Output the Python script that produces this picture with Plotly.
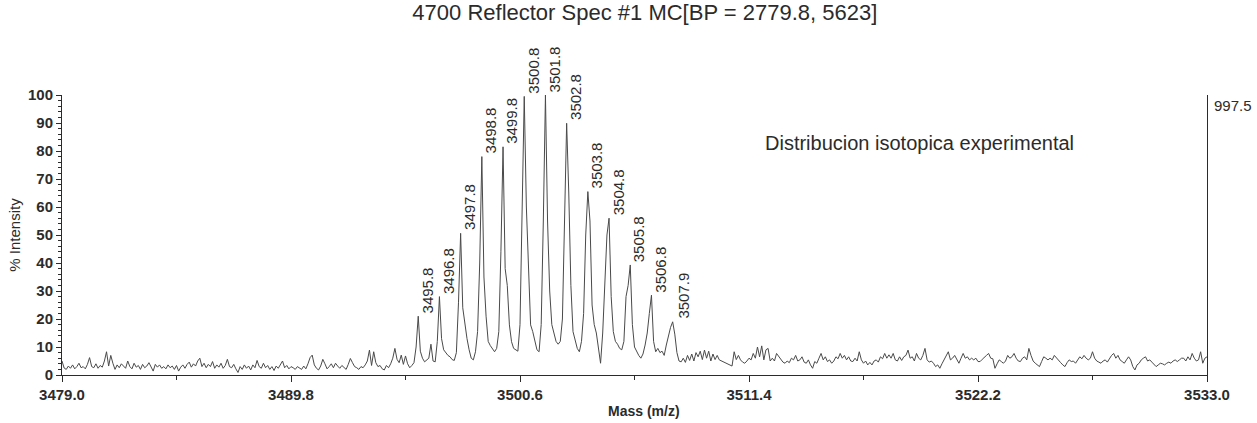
import plotly.graph_objects as go

# ---------------- data ----------------
TITLE = "4700 Reflector Spec #1 MC[BP = 2779.8, 5623]"
NOTE = "Distribucion isotopica experimental"
BASE_PEAK = "997.5"
X_TITLE = "Mass (m/z)"
Y_TITLE = "% Intensity"

MZ_START = 3479.0
MZ_STEP = 0.1

# % intensity sampled every 0.1 m/z from 3479.0 to 3533.0 (one row = 1 m/z)
INTENSITY = [
    5.0, 2.5, 2.0, 3.2, 2.4, 3.6, 2.2, 3.0, 4.2, 2.6,   # 3479
    3.0, 2.2, 3.8, 6.2, 3.0, 2.6, 4.0, 2.4, 3.4, 2.8,   # 3480
    5.0, 8.3, 3.2, 7.0, 4.2, 2.0, 3.6, 2.6, 4.0, 3.0,   # 3481
    2.4, 5.0, 3.0, 2.2, 4.2, 2.8, 3.4, 2.0, 3.8, 2.6,   # 3482
    3.2, 4.4, 2.6, 1.4, 3.8, 2.8, 3.6, 2.4, 3.0, 2.2,   # 3483
    3.6, 2.6, 3.2, 2.0, 3.4, 1.4, 2.8, 3.6, 2.4, 3.8,   # 3484
    4.6, 2.8, 4.0, 3.2, 5.0, 6.0, 3.0, 4.2, 2.6, 3.8,   # 3485
    3.0, 4.8, 2.4, 3.6, 2.8, 4.2, 2.4, 3.4, 5.6, 3.0,   # 3486
    2.6, 3.8, 2.2, 0.9, 3.0, 2.0, 3.6, 2.4, 3.2, 1.8,   # 3487
    3.6, 2.6, 5.2, 3.0, 2.4, 4.2, 2.6, 3.4, 2.0, 3.0,   # 3488
    1.6, 3.2, 2.4, 3.8, 5.0, 2.6, 3.4, 2.2, 3.0, 2.6,   # 3489
    2.0, 3.0, 2.4, 2.0, 3.2, 2.2, 4.0, 6.2, 7.1, 3.6,   # 3490
    2.4, 1.8, 3.2, 5.6, 4.0, 2.2, 3.0, 4.0, 2.6, 4.2,   # 3491
    3.2, 2.4, 3.4, 2.6, 2.0, 3.8, 5.9, 4.4, 3.0, 2.6,   # 3492
    2.0, 3.0, 2.6, 3.6, 5.0, 8.9, 3.4, 8.3, 4.4, 3.0,   # 3493
    3.4, 2.2, 1.8, 3.4, 2.6, 4.0, 6.0, 9.5, 5.6, 4.4,   # 3494
    7.1, 3.8, 6.8, 4.0, 2.6, 3.4, 4.4, 10.0, 21.0, 8.5,  # 3495
    6.0, 4.7, 5.5, 6.0, 11.0, 5.0, 4.7, 12.0, 28.0, 13.0,  # 3496
    9.0, 8.0, 7.0, 6.5, 5.5, 5.2, 8.0, 26.0, 50.6, 24.0,   # 3497
    18.0, 13.0, 9.0, 6.0, 5.4, 8.3, 15.5, 40.0, 78.0, 35.0,  # 3498
    21.0, 12.0, 10.5, 9.5, 8.3, 9.5, 15.5, 44.0, 81.5, 38.0,  # 3499
    32.0, 17.9, 11.9, 9.5, 9.0, 8.5, 18.0, 55.0, 99.5, 60.0,  # 3500
    42.0, 17.9, 15.5, 12.0, 9.0, 8.3, 18.0, 55.0, 100.0, 55.0,  # 3501
    30.0, 18.0, 15.0, 12.0, 11.0, 12.0, 20.0, 56.0, 89.9, 65.0,  # 3502
    32.0, 15.5, 12.0, 9.5, 8.3, 12.0, 22.0, 50.0, 65.5, 55.0,   # 3503
    25.0, 18.0, 15.0, 9.5, 4.2, 15.0, 30.0, 50.0, 56.0, 28.0,   # 3504
    15.5, 12.0, 11.0, 9.5, 9.0, 12.0, 28.0, 32.0, 39.3, 18.0,   # 3505
    10.0, 8.3, 7.0, 6.0, 7.5, 10.7, 15.0, 22.0, 28.5, 12.0,     # 3506
    8.3, 9.5, 8.0, 8.5, 7.0, 10.7, 14.0, 17.0, 19.0, 14.6,      # 3507
    8.0, 5.0, 4.7, 6.0, 4.5, 7.0, 5.2, 7.5, 5.0, 8.0,   # 3508
    6.5, 8.5, 5.5, 8.9, 6.0, 8.5, 5.0, 7.5, 5.5, 7.0,   # 3509
    5.4, 5.0, 4.5, 4.2, 3.8, 3.4, 3.2, 8.3, 5.5, 7.0,   # 3510
    5.4, 4.6, 4.2, 5.0, 6.0, 5.4, 7.7, 6.0, 10.0, 6.5,  # 3511
    10.4, 5.4, 9.0, 9.5, 5.0, 6.0, 5.0, 7.7, 6.5, 5.4,  # 3512
    4.6, 4.2, 5.0, 4.4, 6.0, 5.4, 7.0, 5.0, 5.4, 6.5,   # 3513
    4.6, 4.2, 5.4, 3.6, 2.4, 4.8, 4.2, 6.0, 7.7, 5.4,   # 3514
    6.5, 4.8, 5.4, 4.2, 5.0, 6.5, 5.8, 7.7, 6.0, 7.0,   # 3515
    5.4, 6.5, 5.0, 4.8, 6.0, 5.0, 8.3, 5.4, 4.2, 5.0,   # 3516
    3.6, 4.5, 3.6, 5.0, 5.4, 4.6, 6.5, 5.8, 7.7, 6.0,   # 3517
    7.2, 6.0, 7.7, 5.4, 5.0, 6.5, 5.2, 6.5, 7.0, 8.9,   # 3518
    6.0, 6.5, 5.0, 7.7, 6.0, 5.4, 7.0, 9.5, 5.4, 4.6,   # 3519
    5.0, 4.2, 3.0, 3.6, 2.4, 4.0, 5.4, 6.5, 8.3, 5.4,   # 3520
    6.0, 7.0, 5.4, 4.2, 6.0, 7.7, 6.0, 6.5, 5.4, 6.0,   # 3521
    5.4, 6.0, 4.8, 4.8, 5.6, 6.5, 7.0, 7.7, 6.0, 5.8,   # 3522
    2.4, 4.0, 5.4, 4.8, 4.2, 5.0, 7.0, 6.0, 6.5, 7.7,   # 3523
    6.0, 5.0, 4.8, 6.0, 6.5, 5.4, 9.5, 7.0, 5.0, 4.2,   # 3524
    3.6, 3.0, 4.8, 6.5, 6.0, 5.4, 6.0, 5.4, 7.0, 6.0,   # 3525
    5.4, 4.4, 3.6, 3.0, 4.4, 5.4, 4.8, 5.0, 4.2, 5.4,   # 3526
    6.5, 5.8, 7.0, 6.0, 5.4, 6.0, 8.3, 6.0, 5.0, 4.6,   # 3527
    4.2, 5.0, 5.4, 4.6, 6.0, 7.0, 7.7, 6.0, 7.0, 5.4,   # 3528
    4.8, 4.2, 5.4, 6.5, 5.4, 3.0, 1.8, 3.6, 4.2, 5.4,   # 3529
    6.0, 6.5, 5.0, 5.4, 4.6, 3.6, 3.0, 3.6, 4.2, 4.0,   # 3530
    3.6, 4.2, 4.6, 4.2, 5.0, 5.4, 4.8, 5.4, 6.0, 6.0,   # 3531
    5.0, 6.5, 5.4, 7.7, 6.0, 5.0, 5.4, 8.3, 4.2, 6.0,   # 3532
    6.5,                                                # 3533.0
]

PEAK_MZ = [3495.8, 3496.8, 3497.8, 3498.8, 3499.8, 3500.8, 3501.8,
           3502.8, 3503.8, 3504.8, 3505.8, 3506.8, 3507.9]
PEAK_LABELS = ["3495.8", "3496.8", "3497.8", "3498.8", "3499.8", "3500.8", "3501.8",
               "3502.8", "3503.8", "3504.8", "3505.8", "3506.8", "3507.9"]

X_TICKS = [3479.0, 3489.8, 3500.6, 3511.4, 3522.2, 3533.0]
X_TICK_TEXT = ["3479.0", "3489.8", "3500.6", "3511.4", "3522.2", "3533.0"]
Y_TICKS = [0, 10, 20, 30, 40, 50, 60, 70, 80, 90, 100]
Y_TICK_TEXT = ["0", "10", "20", "30", "40", "50", "60", "70", "80", "90", "100"]

# ---------------- figure ----------------
mz = [round(MZ_START + i * MZ_STEP, 2) for i in range(len(INTENSITY))]

FONT = "Liberation Sans, Arial, sans-serif"
INK = "#2b2b2b"

fig = go.Figure()
fig.add_trace(go.Scatter(
    x=mz, y=INTENSITY, mode="lines",
    line=dict(color="#4a4a4a", width=1),
    hoverinfo="x+y", showlegend=False,
))

annotations = []
for pm, lab in zip(PEAK_MZ, PEAK_LABELS):
    top = max(v for m, v in zip(mz, INTENSITY) if abs(m - pm) <= 0.15)
    annotations.append(dict(
        x=pm, y=top, xref="x", yref="y", text=lab, showarrow=False,
        textangle=-90, xanchor="center", yanchor="bottom", xshift=9, yshift=1,
        font=dict(family=FONT, size=15, color=INK),
    ))

annotations.append(dict(
    x=0.749, y=0.829, xref="paper", yref="paper", text=NOTE, showarrow=False,
    xanchor="center", yanchor="middle",
    font=dict(family=FONT, size=20, color=INK),
))
annotations.append(dict(
    x=1, y=100, xref="paper", yref="y", text=BASE_PEAK, showarrow=False,
    xanchor="left", yanchor="top", xshift=5, yshift=0,
    font=dict(family=FONT, size=15, color=INK),
))
annotations.append(dict(
    x=0.508, y=-0.129, xref="paper", yref="paper", text=X_TITLE, showarrow=False,
    xanchor="center", yanchor="middle",
    font=dict(family=FONT, size=14, color=INK, weight="bold"),
))

fig.update_layout(
    width=1257, height=423,
    margin=dict(l=62, r=50, t=95, b=48, autoexpand=False),
    paper_bgcolor="white", plot_bgcolor="white",
    title=dict(text=TITLE, x=0.513, xanchor="center", y=0.970, yanchor="middle",
               font=dict(family=FONT, size=22, color=INK)),
    annotations=annotations,
    showlegend=False,
)

fig.update_xaxes(
    range=[X_TICKS[0], X_TICKS[-1]], automargin=False,
    tickmode="array", tickvals=X_TICKS, ticktext=X_TICK_TEXT,
    ticks="outside", ticklen=6, tickwidth=1, tickcolor=INK,
    minor=dict(tickmode="linear", tick0=X_TICKS[0], dtick=(X_TICKS[1] - X_TICKS[0]) / 2,
               ticks="outside", ticklen=4, tickcolor=INK, showgrid=False),
    showline=True, linecolor=INK, linewidth=1, mirror=False,
    showgrid=False, zeroline=False,
    tickfont=dict(family=FONT, size=15, color=INK, weight="bold"),
)
fig.update_yaxes(
    range=[0, 100], automargin=False,
    tickmode="array", tickvals=Y_TICKS, ticktext=Y_TICK_TEXT,
    ticks="outside", ticklen=5, tickwidth=1, tickcolor=INK,
    minor=dict(tickmode="linear", tick0=0, dtick=2,
               ticks="outside", ticklen=3, tickcolor=INK, showgrid=False),
    showline=True, linecolor=INK, linewidth=1, mirror=True,
    showgrid=False, zeroline=False,
    tickfont=dict(family=FONT, size=15, color=INK, weight="bold"),
    title=dict(text=Y_TITLE, standoff=3,
               font=dict(family=FONT, size=15, color=INK)),
)

fig.write_html("out.html", config={"displayModeBar": False},
               post_script="document.body.style.margin='0px';")
